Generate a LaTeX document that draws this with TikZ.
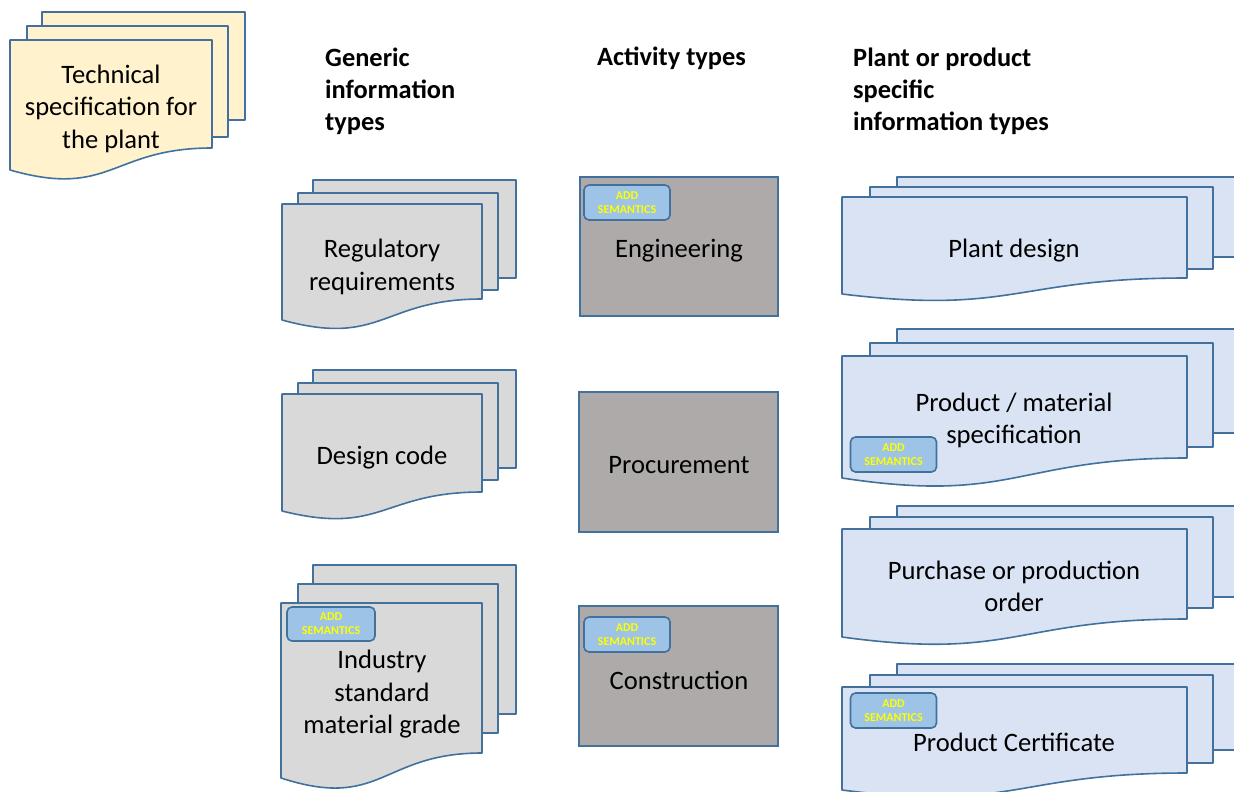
\documentclass[tikz,border=0pt]{standalone}
\usepackage{fontspec}
\setmainfont{Carlito}
\definecolor{docyel}{HTML}{FFF2CC}
\definecolor{docgry}{HTML}{D9D9D9}
\definecolor{docblu}{HTML}{DAE3F3}
\definecolor{actgry}{HTML}{AEAAAA}
\definecolor{edge}{HTML}{41719C}
\definecolor{badgefill}{HTML}{9DC3E6}
\definecolor{badgetext}{HTML}{FFFF00}
\tikzset{
  docline/.style={draw=edge, line width=1.6pt, line join=round},
  doctext/.style={align=center, inner sep=0pt, yshift=-2.5pt, font=\fontsize{26.6}{32.5}\selectfont, text=black},
  headtext/.style={align=left, inner sep=0pt, yshift=-2pt, font=\bfseries\fontsize{26.4}{32}\selectfont, text=black},
  actbox/.style={draw=edge, line width=1.8pt, fill=actgry},
  badge/.style={draw=edge, line width=1.6pt, fill=badgefill, rounded corners=5pt, minimum width=86pt, minimum height=35pt, inner sep=0pt, align=center, text=badgetext, font=\bfseries\fontsize{12}{14}\selectfont},
}
% sheet: fill, x0, y0, x1, y1
\newcommand\docsheet[5]{\path[docline, fill=#1] (#2,#3) rectangle (#4,#5);}
% front sheet: fill, x0, ytop, x1, yRight, yLeft
\newcommand\docfront[6]{\path[docline, fill=#1] (#2,#3) -- (#4,#3) -- (#4,#5) .. controls ({(#2+#4)/2},#5) and ({(#2+#4)/2},{#5+2.31*(#6-#5)}) .. (#2,#6) -- cycle;}
\begin{document}
\begin{tikzpicture}[x=1pt, y=-1pt]
\path[use as bounding box] (0,0) rectangle (1234,792);
\clip (0,0) rectangle (1234,792);

% Technical specification
\docsheet{docyel}{42}{12}{245}{120}
\docsheet{docyel}{27}{26}{228}{137}
\docfront{docyel}{10}{40}{212}{148}{170}
\node[doctext] (tech) at (111,106) {Technical\\specification for\\the plant};

% Headers
\node[headtext, anchor=west] (hgen) at (325,89) {Generic\\information\\types};
\node[headtext, anchor=base west, yshift=2pt] (hact) at (597,66) {Activity types};
\node[headtext, anchor=west] (hplant) at (853,89) {Plant or product\\specific\\information types};

% Generic information types
\docsheet{docgry}{313}{180}{516}{278}
\docsheet{docgry}{298}{193}{498}{290}
\docfront{docgry}{282}{204}{482}{299}{320}
\node[doctext] (reg) at (382,264.5) {Regulatory\\requirements};

\docsheet{docgry}{313}{370}{516}{468}
\docsheet{docgry}{298}{383}{498}{480}
\docfront{docgry}{282}{394}{482}{492}{511}
\node[doctext] (dcode) at (382,455) {Design code};

\docsheet{docgry}{313}{565}{516}{714}
\docsheet{docgry}{298}{584}{498}{733}
\docfront{docgry}{281}{603}{482}{753}{778}
\node[doctext] (ind) at (382,692) {Industry\\standard\\material grade};
\node[badge, minimum width=88pt, minimum height=34pt] (bind) at (331,624) {ADD\\SEMANTICS};

% Activity types
\node[actbox, minimum width=198pt, minimum height=139pt, inner sep=0pt] (eng) at (679,246.5) {};
\node[doctext] (engt) at (679,248) {Engineering};
\node[badge] (beng) at (627,202.5) {ADD\\SEMANTICS};

\node[actbox, minimum width=199pt, minimum height=140pt, inner sep=0pt] (proc) at (678.5,462) {};
\node[doctext] (proct) at (679,463) {Procurement};

\node[actbox, minimum width=199pt, minimum height=140pt, inner sep=0pt] (cons) at (678.5,676) {};
\node[doctext] (const) at (679,678) {Construction};
\node[badge] (bcons) at (627,634.5) {ADD\\SEMANTICS};

% Plant or product specific information types
\docsheet{docblu}{897}{177}{1245}{257}
\docsheet{docblu}{870}{187}{1213}{269}
\docfront{docblu}{842}{197}{1187}{278}{294}
\node[doctext] (pd) at (1014,248) {Plant design};

\docsheet{docblu}{897}{329}{1245}{433}
\docsheet{docblu}{870}{343}{1213}{447}
\docfront{docblu}{842}{356}{1187}{458}{478}
\node[doctext] (pms) at (1014,418) {Product / material\\specification};
\node[badge] (bpms) at (893.5,454.5) {ADD\\SEMANTICS};

\docsheet{docblu}{897}{506}{1245}{597}
\docsheet{docblu}{870}{517}{1213}{608}
\docfront{docblu}{842}{529}{1187}{619}{637}
\node[doctext] (ppo) at (1014,584) {Purchase or production\\order};

\docsheet{docblu}{897}{664}{1245}{750}
\docsheet{docblu}{870}{675}{1213}{763}
\docfront{docblu}{842}{687}{1187}{773}{790}
\node[doctext] (pc) at (1014,740) {Product Certificate};
\node[badge] (bpc) at (893.5,710.5) {ADD\\SEMANTICS};
\end{tikzpicture}
\end{document}
